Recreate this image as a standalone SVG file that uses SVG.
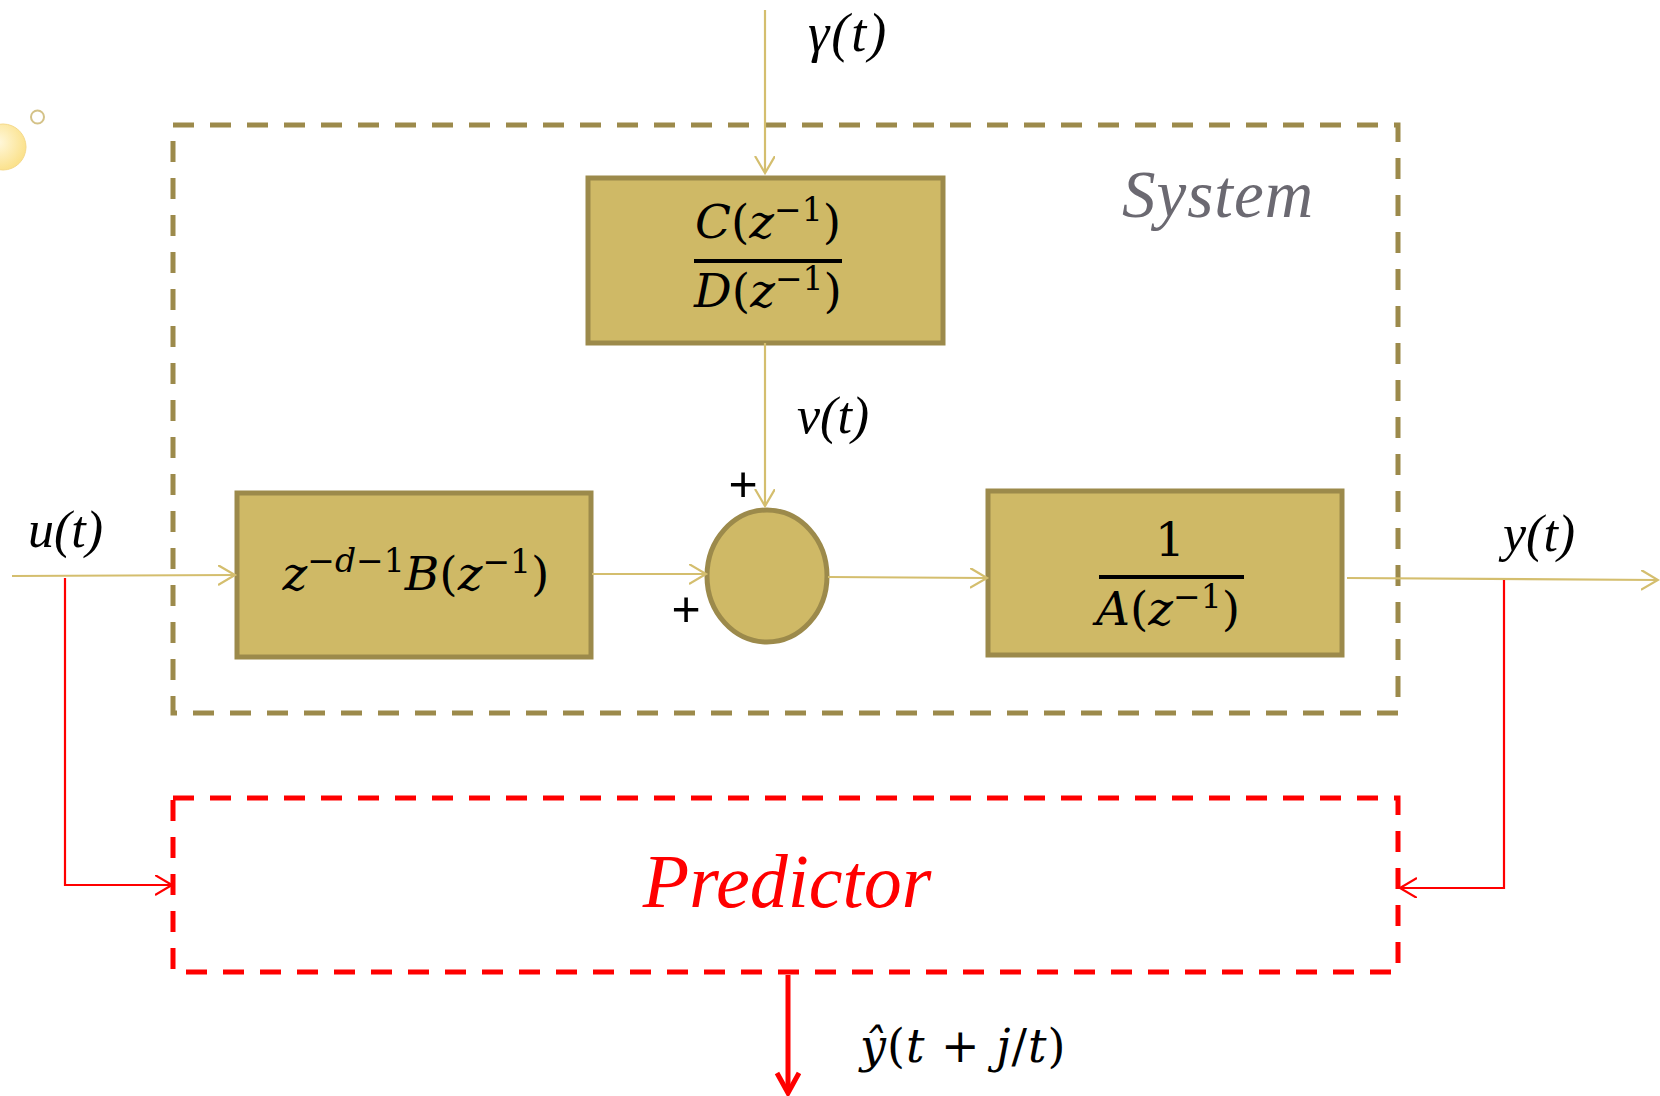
<svg xmlns="http://www.w3.org/2000/svg" width="1660" height="1096" viewBox="0 0 1660 1096">
<style>
.box{fill:#CFB966;stroke:#9C8A4B;stroke-width:5}
.wire{fill:none;stroke:#D4BE6E;stroke-width:2.2}
.rwire{fill:none;stroke:#FF0000;stroke-width:2.2}
.math{font-family:"DejaVu Serif","Liberation Serif",serif;fill:#000}
.lbl{font-family:"Liberation Serif","DejaVu Serif",serif;font-style:italic;fill:#000}
.it{font-style:italic}
.frac{stroke:#000;stroke-width:4}
.plus{font-family:"Liberation Sans",sans-serif;fill:#000}
</style>
<defs>
<radialGradient id="sph" cx="0.4" cy="0.4" r="0.6">
<stop offset="0" stop-color="#FFF8DC"/>
<stop offset="1" stop-color="#FBE28E"/>
</radialGradient>
<marker id="ag" markerUnits="userSpaceOnUse" markerWidth="24" markerHeight="24" refX="17" refY="10" orient="auto">
<path d="M0,0 L17,10 L0,20" fill="none" stroke="#D4BE6E" stroke-width="2.2"/>
</marker>
<marker id="ar" markerUnits="userSpaceOnUse" markerWidth="24" markerHeight="24" refX="17" refY="10" orient="auto">
<path d="M0,0 L17,10 L0,20" fill="none" stroke="#FF0000" stroke-width="2.2"/>
</marker>
<marker id="arb" markerUnits="userSpaceOnUse" markerWidth="30" markerHeight="30" refX="22" refY="13" orient="auto">
<path d="M2,2 L22,13 L2,24" fill="none" stroke="#FF0000" stroke-width="5"/>
</marker>
</defs>
<rect width="1660" height="1096" fill="#FFFFFF"/>
<circle cx="3" cy="147" r="23" fill="url(#sph)" stroke="#F5D98A" stroke-width="1"/>
<circle cx="37.5" cy="117" r="6.5" fill="none" stroke="#D4C288" stroke-width="2"/>
<g id="system">
<rect x="173" y="125" width="1225" height="588" fill="none" stroke="#9C8A4B" stroke-width="5" stroke-dasharray="21 16"/>
<text x="1122" y="217" font-family="'Liberation Serif',serif" font-style="italic" font-size="67" letter-spacing="1" fill="#6B6971">System</text>
</g>
<g id="predictor">
<rect x="173" y="798" width="1225" height="174" fill="none" stroke="#FF0000" stroke-width="5" stroke-dasharray="21 16"/>
<text x="787" y="907" text-anchor="middle" font-family="'Liberation Serif',serif" font-style="italic" font-size="76" fill="#FF0000">Predictor</text>
</g>
<g id="cd">
<rect class="box" x="588" y="178" width="355" height="165"/>
<line class="frac" x1="694" y1="261" x2="842" y2="261"/>
<text class="math" x="768" y="238" text-anchor="middle" font-size="47"><tspan class="it">C</tspan>(<tspan class="it">z</tspan><tspan font-size="33" dy="-17">−1</tspan><tspan dy="17">)</tspan></text>
<text class="math" x="768" y="307" text-anchor="middle" font-size="47"><tspan class="it">D</tspan>(<tspan class="it">z</tspan><tspan font-size="33" dy="-17">−1</tspan><tspan dy="17">)</tspan></text>
</g>
<g id="b">
<rect class="box" x="237" y="493" width="354" height="164"/>
<text class="math" x="416" y="590" text-anchor="middle" font-size="47"><tspan class="it">z</tspan><tspan font-size="33" dy="-18">−<tspan class="it">d</tspan>−1</tspan><tspan class="it" dy="18">B</tspan>(<tspan class="it">z</tspan><tspan font-size="33" dy="-17">−1</tspan><tspan dy="17">)</tspan></text>
</g>
<g id="sum">
<ellipse cx="767" cy="576" rx="60" ry="66" fill="#CFB966" stroke="#9C8A4B" stroke-width="5"/>
<text class="plus" x="743" y="501" text-anchor="middle" font-size="50">+</text>
<text class="plus" x="686" y="626" text-anchor="middle" font-size="50">+</text>
</g>
<g id="a">
<rect class="box" x="988" y="491" width="354" height="164"/>
<line class="frac" x1="1099" y1="577" x2="1244" y2="577"/>
<text class="math" x="1170" y="556" text-anchor="middle" font-size="47">1</text>
<text class="math" x="1168" y="625" text-anchor="middle" font-size="47"><tspan class="it">A</tspan>(<tspan class="it">z</tspan><tspan font-size="33" dy="-17">−1</tspan><tspan dy="17">)</tspan></text>
</g>
<g id="labels" font-size="52">
<text class="lbl" x="808" y="51" font-size="54" letter-spacing="2">γ(t)</text>
<text class="lbl" x="797" y="433">v(t)</text>
<text class="lbl" x="28" y="547">u(t)</text>
<text class="lbl" x="1503" y="551">y(t)</text>
<text class="math" x="860" y="1062" font-size="46" letter-spacing="1" fill="#FF0000"><tspan class="it">ŷ</tspan>(<tspan class="it">t</tspan> + <tspan class="it">j</tspan>/<tspan class="it">t</tspan>)</text>
</g>
<g id="connectors">
<path class="wire" d="M765,10 L765,173" marker-end="url(#ag)"/>
<path class="wire" d="M765,343 L765,506" marker-end="url(#ag)"/>
<path class="wire" d="M12,576 L235,575" marker-end="url(#ag)"/>
<path class="wire" d="M592,574 L706,574" marker-end="url(#ag)"/>
<path class="wire" d="M828,577 L987,578" marker-end="url(#ag)"/>
<path class="wire" d="M1347,578 L1658,580" marker-end="url(#ag)"/>
<path class="rwire" d="M65,578 L65,885 L172,885" marker-end="url(#ar)"/>
<path class="rwire" d="M1504,580 L1504,888 L1400,888" marker-end="url(#ar)"/>
<path d="M788,975 L788,1093" fill="none" stroke="#FF0000" stroke-width="5" marker-end="url(#arb)"/>
</g>
</svg>
